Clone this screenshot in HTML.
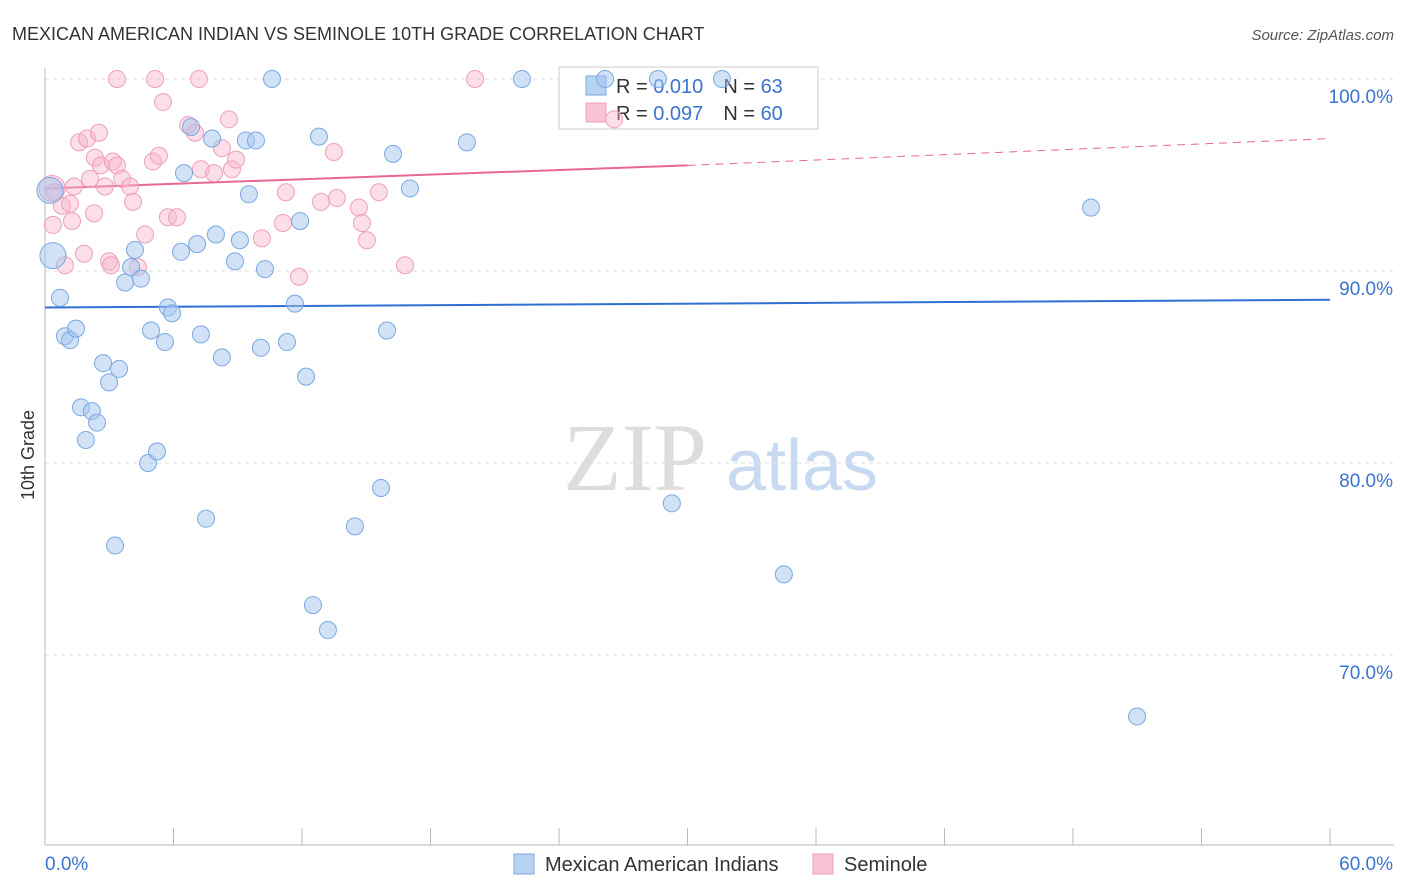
<!DOCTYPE html>
<html><head><meta charset="utf-8">
<style>
body{margin:0;background:#fff;font-family:"Liberation Sans",sans-serif;}
svg{display:block}
</style></head>
<body>
<svg id="chart" width="1406" height="892" viewBox="0 0 1406 892">
<text x="12" y="40" font-size="18" fill="#333">MEXICAN AMERICAN INDIAN VS SEMINOLE 10TH GRADE CORRELATION CHART</text>
<text x="1394" y="40" font-size="15" fill="#555" font-style="italic" text-anchor="end">Source: ZipAtlas.com</text>
<text x="34" y="455" font-size="18" fill="#333" text-anchor="middle" transform="rotate(-90 34 455)">10th Grade</text>
<g>
<text x="635" y="490" font-size="96" fill="#ddd" font-family="Liberation Serif,serif" text-anchor="middle">ZIP</text>
<text x="802" y="490" font-size="72" fill="#c8daf2" text-anchor="middle">atlas</text>
</g>
<g id="grid"></g>
<g id="axes"></g>
<g>
<rect x="559" y="67" width="259" height="62" fill="#fff" stroke="#ccc"/>
<rect x="586" y="76" width="20" height="19" fill="#b8d2f4" stroke="#7aa8e0"/>
<rect x="586" y="103" width="20" height="19" fill="#f8c4d4" stroke="#eea0b8"/>
<text x="616" y="93" font-size="20" fill="#333">R = <tspan fill="#3a74d0">0.010</tspan><tspan dx="20">N = </tspan><tspan fill="#3a74d0">63</tspan></text>
<text x="616" y="120" font-size="20" fill="#333">R = <tspan fill="#3a74d0">0.097</tspan><tspan dx="20">N = </tspan><tspan fill="#3a74d0">60</tspan></text>
</g>
<g id="trend"></g>
<g id="points"></g>
<g>
<rect x="514" y="854" width="20" height="20" fill="#b8d2f4" stroke="#7aa8e0"/>
<text x="545" y="871" font-size="20" fill="#333">Mexican American Indians</text>
<rect x="813" y="854" width="20" height="20" fill="#f8c4d4" stroke="#eea0b8"/>
<text x="844" y="871" font-size="20" fill="#333">Seminole</text>
</g>
</svg>
<script>
const blueX=[0.23,0.37,0.70,0.93,1.17,1.45,2.71,2.99,3.46,1.68,2.19,2.43,1.91,3.27,4.81,5.23,4.95,5.60,5.74,5.93,7.28,8.26,7.52,10.08,11.30,11.67,12.19,12.51,13.21,14.47,15.69,15.97,3.74,4.02,4.48,4.20,6.35,7.10,7.98,9.10,8.87,10.27,11.91,6.49,9.52,7.80,9.38,9.85,6.82,10.60,12.79,16.25,17.04,19.70,22.27,26.15,28.62,31.61,48.84,29.27,34.50,50.99];
const blueY=[94.2,90.8,88.6,86.6,86.4,87.0,85.2,84.2,84.9,82.9,82.7,82.1,81.2,75.7,80.0,80.6,86.9,86.3,88.1,87.8,86.7,85.5,77.1,86.0,86.3,88.3,84.5,72.6,71.3,76.7,78.7,86.9,89.4,90.2,89.6,91.1,91.0,91.4,91.9,91.6,90.5,90.1,92.6,95.1,94.0,96.9,96.8,96.8,97.5,100,97.0,96.1,94.3,96.7,100,100,100,100,93.3,77.9,74.2,66.8];
const pinkX=[0.33,0.47,0.37,0.79,0.93,1.17,1.26,1.35,1.59,1.96,2.52,2.29,1.82,2.10,2.33,2.61,2.80,2.99,3.08,3.17,3.36,3.60,3.97,4.11,4.34,4.67,3.36,5.14,5.51,5.04,5.32,5.74,6.16,6.68,7.00,7.19,7.28,7.89,8.26,8.59,8.73,8.92,10.13,11.11,11.25,11.86,12.89,13.49,13.63,14.66,14.80,15.03,15.59,16.81,20.08,26.57];
const pinkY=[94.3,94.1,92.4,93.4,90.3,93.5,92.6,94.4,96.7,96.9,97.2,93.0,90.9,94.8,95.9,95.5,94.4,90.5,90.3,95.7,95.5,94.8,94.4,93.6,90.2,91.9,100,100,98.8,95.7,96.0,92.8,92.8,97.6,97.2,100,95.3,95.1,96.4,97.9,95.3,95.8,91.7,92.5,94.1,89.7,93.6,96.2,93.8,93.3,92.5,91.6,94.1,90.3,100,97.9];
const yTicks=[100,90,80,70];
const yTickLabels=["100.0%","90.0%","80.0%","70.0%"];
const blueTrend=[88.1,88.5];
const pinkTrend=[94.3,95.5,96.9];
const NS="http://www.w3.org/2000/svg";
const sx=v=>45+v/60*1285, sy=v=>79+(100-v)*19.2;
function mk(t,a,p){const e=document.createElementNS(NS,t);for(const k in a)e.setAttribute(k,a[k]);p.appendChild(e);return e;}
const grid=document.getElementById('grid'),axes=document.getElementById('axes'),tr=document.getElementById('trend'),pts=document.getElementById('points');
yTicks.forEach((t,i)=>{
 const l=mk('line',{x1:45,x2:1394,y1:sy(t),y2:sy(t),stroke:'#ddd','stroke-dasharray':'4,4'},grid);
 
 
 const tx=mk('text',{x:1393,y:sy(t)+24,'font-size':19,fill:'#3a74d0','text-anchor':'end'},grid);
 tx.textContent=yTickLabels[i];
 
 
});
let a=mk('line',{x1:45,x2:45,y1:68,y2:845,stroke:'#bbb'},axes);


a=mk('line',{x1:45,x2:1394,y1:845,y2:845,stroke:'#bbb'},axes);


for(let i=0;i<=10;i++){const x=sx(i*6);const t=mk('line',{x1:x,x2:x,y1:828,y2:845,stroke:'#bbb'},axes);
 
 }
[["0.0%",45,'start'],["60.0%",1393,'end']].forEach(d=>{const t=mk('text',{x:d[1],y:870,'font-size':19,fill:'#3a74d0','text-anchor':d[2]},axes);t.textContent=d[0];
 
 });
let l=mk('line',{x1:sx(0),y1:sy(blueTrend[0]),x2:sx(60),y2:sy(blueTrend[1]),stroke:'#2f6fd0','stroke-width':2},tr);


l=mk('line',{x1:sx(0),y1:sy(pinkTrend[0]),x2:sx(30),y2:sy(pinkTrend[1]),stroke:'#e86890','stroke-width':2},tr);


l=mk('line',{x1:sx(30),y1:sy(pinkTrend[1]),x2:sx(60),y2:sy(pinkTrend[2]),stroke:'#e86890','stroke-width':1,'stroke-dasharray':'8,6'},tr);


function draw(X,Y,fill,stroke,name){X.forEach((x,i)=>{const r=(i<2&&name==='blue-point')||(i===0&&name==='pink-point')?13:8.5;
 const c=mk('circle',{cx:sx(x),cy:sy(Y[i]),r:r,fill:fill,stroke:stroke,'stroke-width':1},pts);
 
 });}
draw(pinkX,pinkY,'rgba(246,182,202,0.45)','#eea0b8','pink-point');
draw(blueX,blueY,'rgba(164,198,240,0.5)','#7aa8e0','blue-point');
</script>
</body></html>
